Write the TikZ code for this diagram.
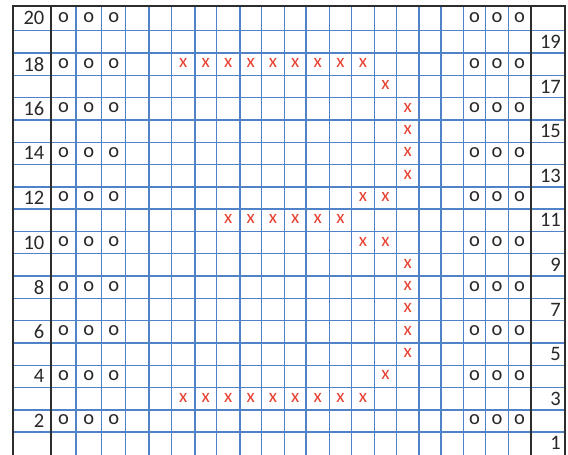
\documentclass[tikz,border=0pt]{standalone}
\usepackage{fontspec}
\setmainfont{Carlito}
\definecolor{gridblue}{RGB}{80,130,200}
\definecolor{xred}{RGB}{232,64,48}
\definecolor{txt}{RGB}{40,40,40}
\definecolor{frame}{RGB}{45,45,45}
\begin{document}
\begin{tikzpicture}[x=1pt,y=-1pt,
  gridline/.style={draw=gridblue,line width=1.4pt},
  frameline/.style={draw=frame,line width=1.9pt},
  ostitch/.style={text=txt,font=\fontsize{20.5}{20.5}\selectfont,inner sep=0pt,anchor=center},
  xstitch/.style={text=xred,font=\fontsize{19}{19}\selectfont,inner sep=0pt,anchor=center},
  rowlab/.style={text=txt,font=\fontsize{20.5}{20.5}\selectfont,inner sep=0pt,anchor=east}]
\useasboundingbox (0,0) rectangle (568,455);
\fill[white] (0,0) rectangle (568,455);
\def\cb{{51,76,101.7,125.7,149,171.7,195,216.7,240,261.7,284.3,306,329.3,351.7,374.3,396.7,419,441,463.3,485.7,508.3,531}}
\def\cc{{0,63.5,88.85,113.7,137.35,160.35,183.35,205.85,228.35,250.85,273,295.15,317.65,340.5,363,385.5,407.85,430,452.15,474.5,497,519.65}}
% horizontal grid lines
\foreach \k in {0,...,18}{
  \pgfmathsetmacro\yy{30.7+22.3*\k}
  \draw[gridline] (12.7,\yy) -- (565,\yy);
}
% vertical grid lines
\foreach \k in {1,...,20}{
  \pgfmathsetmacro\xx{\cb[\k]}
  \draw[gridline] (\xx,5.7) -- (\xx,455);
}
% frame lines
\draw[frameline] (12.7,455) -- (12.7,5.7) -- (565,5.7) -- (565,455);
\draw[frameline] (51,5.7) -- (51,455);
\draw[frameline] (531,5.7) -- (531,455);
% helper: cell centre
\newcommand\cellpos[2]{%
  \pgfmathsetmacro\cx{\cc[#1]}%
  \ifnum#2=20 \def\ry{18.2}\else\pgfmathsetmacro\ry{30.7+22.3*(19-#2)+11.15}\fi
}
% o stitches
\foreach \r in {20,18,...,2}{
  \foreach \c in {1,2,3,19,20,21}{
    \cellpos{\c}{\r}
    \node[ostitch] (o-\c-\r) at (\cx,\ry-1) {o};
  }
}
% x stitches
\foreach \c/\r in {6/18,7/18,8/18,9/18,10/18,11/18,12/18,13/18,14/18,
  15/17,16/16,16/15,16/14,16/13,14/12,15/12,
  8/11,9/11,10/11,11/11,12/11,13/11,14/10,15/10,
  16/9,16/8,16/7,16/6,16/5,15/4,
  6/3,7/3,8/3,9/3,10/3,11/3,12/3,13/3,14/3}{
  \cellpos{\c}{\r}
  \node[xstitch] (x-\c-\r) at (\cx,\ry-1) {x};
}
% row labels
\foreach \r in {20,18,...,2}{
  \cellpos{1}{\r}
  \node[rowlab] (lab-\r) at (44.5,\ry) {\r};
}
\foreach \r in {19,17,...,1}{
  \cellpos{1}{\r}
  \node[rowlab] (lab-\r) at (561,\ry) {\r};
}
\end{tikzpicture}
\end{document}
